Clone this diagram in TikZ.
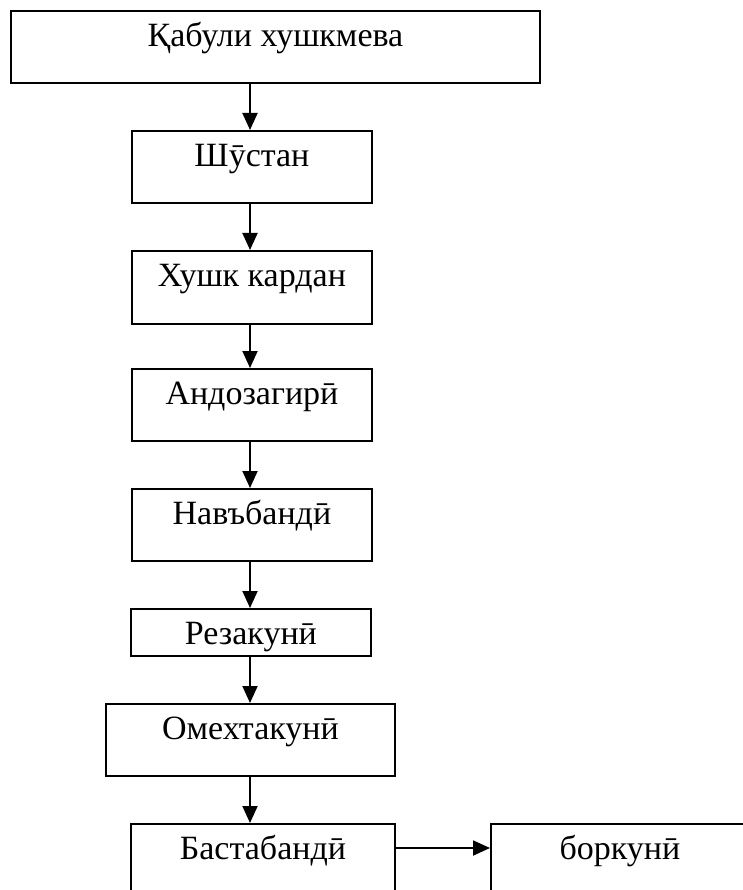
\documentclass[tikz,border=0pt]{standalone}
\usepackage{fontspec}
\setmainfont{Liberation Serif}
\usetikzlibrary{arrows.meta}
\begin{document}
\begin{tikzpicture}[x=1pt,y=-1pt,
  box/.style={draw, line width=1.9pt, rectangle, inner sep=0pt, anchor=north west,
    font=\fontsize{34}{40}\selectfont, text height=35.5pt},
  arr/.style={line width=1.9pt, -{Triangle[length=17pt,width=15pt]}}]
\useasboundingbox (0,0) rectangle (743,890);
\clip (0,0) rectangle (743,890);
\fill[white] (0,0) rectangle (743,890);
\node[box, minimum width=529pt, text depth=36.5pt] (b1) at (10,10.5) {Қабули хушкмева};
\node[box, minimum width=240pt, text depth=36.5pt] (b2) at (131,130) {Шӯстан};
\node[box, minimum width=240pt, text depth=37.5pt] (b3) at (131,250) {Хушк кардан};
\node[box, minimum width=240pt, text depth=36.5pt] (b4) at (131,368) {Андозагирӣ};
\node[box, minimum width=240pt, text depth=36.5pt] (b5) at (131,488) {Навъбандӣ};
\node[box, minimum width=240pt, text depth=11.5pt] (b6) at (130,608) {Резакунӣ};
\node[box, minimum width=289pt, text depth=36.5pt] (b7) at (105,703) {Омехтакунӣ};
\node[box, minimum width=264pt, text depth=36.5pt] (b8) at (130,823) {Бастабандӣ};
\node[box, minimum width=258pt, text depth=36.5pt] (b9) at (490,823) {боркунӣ};
\coordinate (ax) at (250,0);
\coordinate (hy) at (0,848);
\draw[arr] (b1.south -| ax) -- (b2.north -| ax);
\draw[arr] (b2.south -| ax) -- (b3.north -| ax);
\draw[arr] (b3.south -| ax) -- (b4.north -| ax);
\draw[arr] (b4.south -| ax) -- (b5.north -| ax);
\draw[arr] (b5.south -| ax) -- (b6.north -| ax);
\draw[arr] (b6.south -| ax) -- (b7.north -| ax);
\draw[arr] (b7.south -| ax) -- (b8.north -| ax);
\draw[arr] (b8.east |- hy) -- (b9.west |- hy);
\end{tikzpicture}
\end{document}
